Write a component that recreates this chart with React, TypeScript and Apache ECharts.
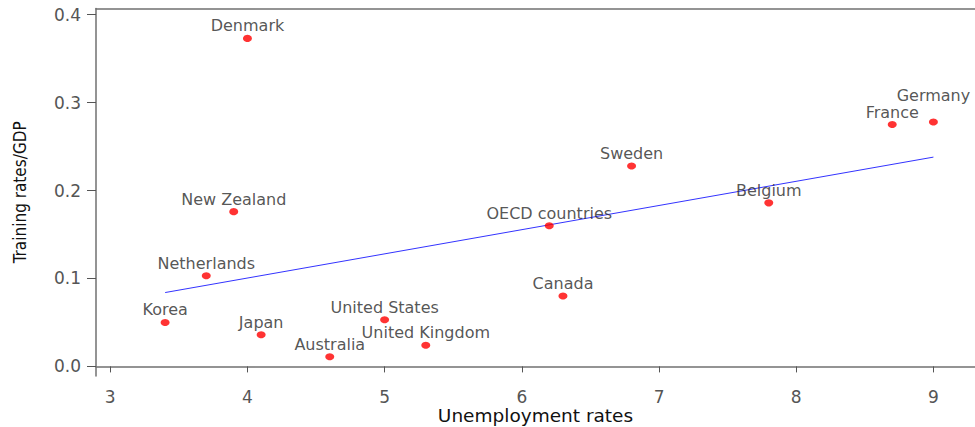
import React, { useEffect, useRef } from "react";
import * as echarts from "echarts";

const countries = [
  "Denmark", "Germany", "France", "Sweden", "Belgium", "New Zealand", "OECD countries",
  "Netherlands", "Canada", "Korea", "United States", "Japan", "United Kingdom", "Australia",
];
const unemployment = [4.0, 9.0, 8.7, 6.8, 7.8, 3.9, 6.2, 3.7, 6.3, 3.4, 5.0, 4.1, 5.3, 4.6];
const trainingGdp = [0.373, 0.278, 0.275, 0.228, 0.186, 0.176, 0.16, 0.103, 0.08, 0.05, 0.053, 0.036, 0.024, 0.011];
const fitLine = [[3.4, 0.084], [9.0, 0.238]];
const xTicks = [3, 4, 5, 6, 7, 8, 9];
const yTicks = [0, 0.1, 0.2, 0.3, 0.4];

export default function App() {
  const ref = useRef<HTMLDivElement>(null);
  useEffect(() => {
    if (!ref.current) return;
    const chart = echarts.init(ref.current, null, { renderer: "svg" });
    const font = "'DejaVu Sans', Verdana, sans-serif";
    const axisLine = { show: true, lineStyle: { color: "#707070", width: 1.5 } };
    chart.setOption({
      animation: false,
      backgroundColor: "#ffffff",
      grid: { left: 96, right: 0, top: 8.5, bottom: 51, containLabel: false, outerBoundsMode: "none" },
      xAxis: [
        {
          type: "value",
          min: 2.896,
          max: 9.303,
          name: "Unemployment rates",
          nameLocation: "middle",
          nameGap: 30,
          nameMoveOverlap: false,
          nameTextStyle: { fontFamily: font, fontSize: 18.5, color: "#111" },
          axisLine,
          axisTick: { show: true, length: 6, inside: false, customValues: xTicks, lineStyle: { color: "#555" } },
          axisLabel: { customValues: xTicks, margin: 12, fontFamily: font, fontSize: 17, color: "#555" },
          splitLine: { show: false },
        },
        {
          type: "value",
          position: "top",
          min: 2.896,
          max: 9.303,
          axisLine,
          axisTick: { show: false },
          axisLabel: { show: false },
          splitLine: { show: false },
        },
      ],
      yAxis: {
        type: "value",
        min: -0.0109,
        max: 0.407,
        name: "Training rates/GDP",
        nameLocation: "middle",
        nameGap: 68,
        nameMoveOverlap: false,
        nameTextStyle: { fontFamily: "'DejaVu Sans Condensed', sans-serif", fontSize: 17, color: "#111" },
        axisLine,
        axisTick: { show: true, length: 9, customValues: yTicks, lineStyle: { color: "#555" } },
        axisLabel: {
          customValues: yTicks,
          margin: 15,
          fontFamily: font,
          fontSize: 17,
          color: "#555",
          formatter: (v: number) => v.toFixed(1),
        },
        splitLine: { show: false },
      },
      series: [
        {
          type: "line",
          data: fitLine,
          symbol: "none",
          lineStyle: { color: "#3333ff", width: 1 },
          silent: true,
          z: 1,
        },
        {
          type: "scatter",
          symbol: "circle",
          symbolSize: [9, 7],
          itemStyle: { color: "#ff0000" },
          z: 3,
          data: countries.map((c, i) => ({
            value: [unemployment[i], trainingGdp[i]],
            name: c,
            label: {
              show: true,
              position: "top",
              distance: c === "Germany" ? 15 : 1,
              formatter: c,
              fontFamily: font,
              fontSize: 16,
              color: "#2a2a2a",
            },
          })),
        },
      ],
    });
    return () => chart.dispose();
  }, []);
  return (
    <div
      ref={ref}
      style={{ position: "absolute", left: 0, top: 0, width: 975, height: 427 }}
    />
  );
}
